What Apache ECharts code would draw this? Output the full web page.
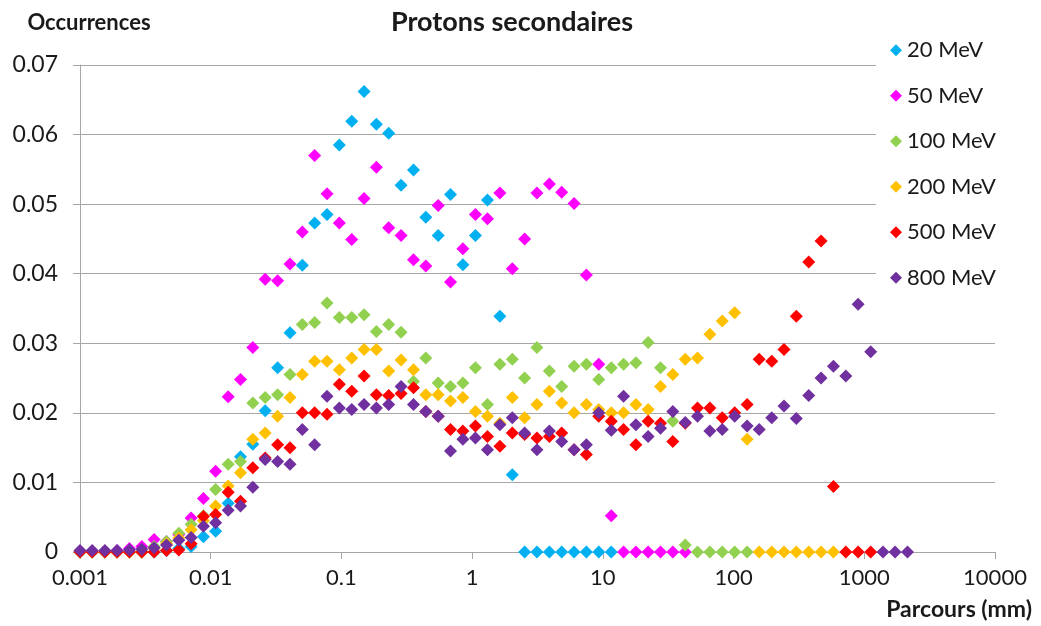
<!DOCTYPE html>
<html>
<head>
<meta charset="utf-8">
<script src="https://cdn.jsdelivr.net/npm/echarts@6/dist/echarts.min.js"></script>
<style>
  html, body { margin: 0; padding: 0; background: #ffffff; }
  #chart { width: 1041px; height: 626px; }
</style>
</head>
<body>
<div id="chart"></div>
<script>
// Range bins (mm), shared by every energy
const parcours = [0.001, 0.00124, 0.00155, 0.00192, 0.00239, 0.00297, 0.00369, 0.00459, 0.0057, 0.00708,
  0.0088, 0.0109, 0.0136, 0.0169, 0.021, 0.0261, 0.0325, 0.0404, 0.0502, 0.0624,
  0.0776, 0.0964, 0.12, 0.149, 0.185, 0.23, 0.286, 0.356, 0.442, 0.55,
  0.683, 0.849, 1.06, 1.31, 1.63, 2.03, 2.52, 3.13, 3.9, 4.84,
  6.02, 7.48, 9.3, 11.6, 14.4, 17.9, 22.2, 27.6, 34.3, 42.7,
  53, 65.9, 81.9, 102, 127, 157, 196, 243, 302, 376,
  467, 581, 722, 897, 1120, 1390, 1720, 2140];

const seriesNames = ['20 MeV', '50 MeV', '100 MeV', '200 MeV', '500 MeV', '800 MeV'];
const seriesColors = ['#00B0F0', '#FF00FF', '#92D050', '#FFC000', '#FF0000', '#7030A0'];

// Occurrences per bin, one list per proton energy
const occ20 = [0, 0, 0, 0, 0, 0, 0, 0.0002, 0.0005, 0.0008,
  0.0022, 0.003, 0.007, 0.0137, 0.0155, 0.0203, 0.0265, 0.0315, 0.0412, 0.0473,
  0.0485, 0.0585, 0.0619, 0.0662, 0.0615, 0.0602, 0.0527, 0.0549, 0.0481, 0.0455,
  0.0514, 0.0413, 0.0455, 0.0506, 0.0339, 0.0111, 0, 0, 0, 0,
  0, 0, 0, 0];

const occ50 = [0.0001, 0.0001, 0.0001, 0.0002, 0.0005, 0.0008, 0.0018, 0.0015, 0.0025, 0.0049,
  0.0077, 0.0116, 0.0223, 0.0248, 0.0294, 0.0392, 0.039, 0.0414, 0.046, 0.057,
  0.0515, 0.0473, 0.0449, 0.0508, 0.0553, 0.0466, 0.0455, 0.042, 0.0411, 0.0498,
  0.0388, 0.0436, 0.0485, 0.0479, 0.0516, 0.0407, 0.045, 0.0516, 0.0529, 0.0517,
  0.0501, 0.0398, 0.027, 0.0052, 0, 0, 0, 0, 0, 0];

const occ100 = [0, 0, 0, 0, 0, 0, 0.0008, 0.0015, 0.0027, 0.004,
  0.0052, 0.009, 0.0126, 0.013, 0.0214, 0.0222, 0.0226, 0.0255, 0.0327, 0.033,
  0.0358, 0.0337, 0.0337, 0.0341, 0.0317, 0.0327, 0.0316, 0.0245, 0.0279, 0.0243,
  0.0238, 0.0243, 0.0265, 0.0212, 0.027, 0.0277, 0.025, 0.0294, 0.026, 0.0238,
  0.0267, 0.027, 0.0248, 0.0265, 0.027, 0.0272, 0.0301, 0.0265, 0.0188, 0.001,
  0, 0, 0, 0, 0];

const occ200 = [0, 0, 0, 0, 0, 0, 0.0005, 0.0012, 0.002, 0.0032,
  0.0045, 0.0066, 0.0095, 0.0114, 0.0162, 0.0171, 0.0195, 0.0222, 0.0255, 0.0274,
  0.0274, 0.0262, 0.0279, 0.0291, 0.0291, 0.026, 0.0276, 0.0262, 0.0226, 0.0226,
  0.0217, 0.0222, 0.0202, 0.0195, 0.0185, 0.0222, 0.0193, 0.0212, 0.0231, 0.0214,
  0.02, 0.0212, 0.0205, 0.02, 0.02, 0.0212, 0.0205, 0.0238, 0.0255, 0.0277,
  0.0279, 0.0313, 0.0332, 0.0344, 0.0162, 0, 0, 0, 0, 0,
  0, 0];

const occ500 = [0, 0, 0, 0, 0, 0, 0, 0.0002, 0.0003, 0.0012,
  0.0051, 0.0054, 0.0086, 0.0073, 0.0121, 0.0135, 0.0154, 0.015, 0.02, 0.02,
  0.0198, 0.0241, 0.0231, 0.0253, 0.0226, 0.0225, 0.0228, 0.0236, 0.0202, 0.0195,
  0.0176, 0.0174, 0.0181, 0.0166, 0.0152, 0.0171, 0.0169, 0.0164, 0.0166, 0.0171,
  0.0147, 0.014, 0.0195, 0.0188, 0.0176, 0.0154, 0.0188, 0.0185, 0.0159, 0.0185,
  0.0207, 0.0207, 0.0193, 0.02, 0.0212, 0.0277, 0.0274, 0.0291, 0.0339, 0.0417,
  0.0447, 0.0094, 0, 0, 0];

const occ800 = [0.0002, 0.0002, 0.0002, 0.0002, 0.0003, 0.0004, 0.0006, 0.001, 0.0017, 0.0021,
  0.0037, 0.0042, 0.006, 0.0066, 0.0093, 0.0133, 0.013, 0.0126, 0.0176, 0.0154,
  0.0224, 0.0207, 0.0205, 0.0212, 0.0207, 0.0212, 0.0238, 0.0212, 0.0202, 0.0195,
  0.0145, 0.0162, 0.0164, 0.0147, 0.0183, 0.0193, 0.0171, 0.0147, 0.0174, 0.0159,
  0.0147, 0.0154, 0.02, 0.0175, 0.0224, 0.0183, 0.0166, 0.0178, 0.0202, 0.0186,
  0.0195, 0.0174, 0.0176, 0.0195, 0.0181, 0.0176, 0.0193, 0.021, 0.0192, 0.0225,
  0.025, 0.0267, 0.0253, 0.0356, 0.0288, 0, 0, 0];

const xTickLabels = ['0.001', '0.01', '0.1', '1', '10', '100', '1000', '10000'];
const yTickLabels = ['0', '0.01', '0.02', '0.03', '0.04', '0.05', '0.06', '0.07'];

const FONT = 'Lato';
const TEXT = '#1a1a1a';
const GRID_GRAY = '#A6A6A6';

const valueSets = [occ20, occ50, occ100, occ200, occ500, occ800];

const series = valueSets.map((vals, s) => ({
  name: seriesNames[s],
  type: 'scatter',
  symbol: 'diamond',
  symbolSize: 13,
  itemStyle: { color: seriesColors[s], opacity: 1 },
  emphasis: { disabled: true },
  data: vals.map((v, i) => [parcours[i], v])
}));

const chart = echarts.init(document.getElementById('chart'), null, { renderer: 'canvas' });

chart.setOption({
  animation: false,
  backgroundColor: '#ffffff',
  grid: { left: 80, right: 46, top: 65, bottom: 74, containLabel: false },
  xAxis: {
    type: 'log',
    logBase: 10,
    min: 0.001,
    max: 10000,
    splitNumber: 7,
    axisLine: { show: true, lineStyle: { color: GRID_GRAY, width: 1 } },
    axisTick: { show: true, length: 7, lineStyle: { color: GRID_GRAY } },
    minorTick: { show: false },
    splitLine: { show: false },
    axisLabel: {
      margin: 15,
      fontFamily: FONT,
      fontSize: 22,
      color: TEXT,
      formatter: v => xTickLabels[Math.round(Math.log10(v)) + 3]
    }
  },
  yAxis: {
    type: 'value',
    min: 0,
    max: 0.07,
    interval: 0.01,
    axisLine: { show: true, lineStyle: { color: GRID_GRAY, width: 1 } },
    axisTick: { show: true, length: 7, lineStyle: { color: GRID_GRAY } },
    splitLine: { show: true, lineStyle: { color: GRID_GRAY, width: 1 } },
    axisLabel: {
      margin: 22,
      fontFamily: FONT,
      fontSize: 23,
      color: TEXT,
      formatter: v => yTickLabels[Math.round(v / 0.01)]
    }
  },
  legend: {
    orient: 'vertical',
    left: 876,
    top: 30,
    padding: [8, 60, 8, 14],
    backgroundColor: '#ffffff',
    icon: 'diamond',
    itemWidth: 12,
    itemHeight: 12,
    itemGap: 21,
    selectedMode: false,
    textStyle: { fontFamily: FONT, fontSize: 22, color: TEXT, lineHeight: 24.5 },
    data: seriesNames
  },
  graphic: [
    {
      type: 'text', x: 512, y: 22,
      style: { text: 'Protons secondaires', font: 'bold 27px ' + FONT, fill: TEXT,
        align: 'center', verticalAlign: 'middle' }
    },
    {
      type: 'text', x: 89, y: 23,
      style: { text: 'Occurrences', font: 'bold 22px ' + FONT, fill: TEXT,
        align: 'center', verticalAlign: 'middle' }
    },
    {
      type: 'text', x: 1032, y: 610,
      style: { text: 'Parcours (mm)', font: 'bold 23px ' + FONT, fill: TEXT,
        align: 'right', verticalAlign: 'middle' }
    }
  ],
  series: series
});
</script>
</body>
</html>
